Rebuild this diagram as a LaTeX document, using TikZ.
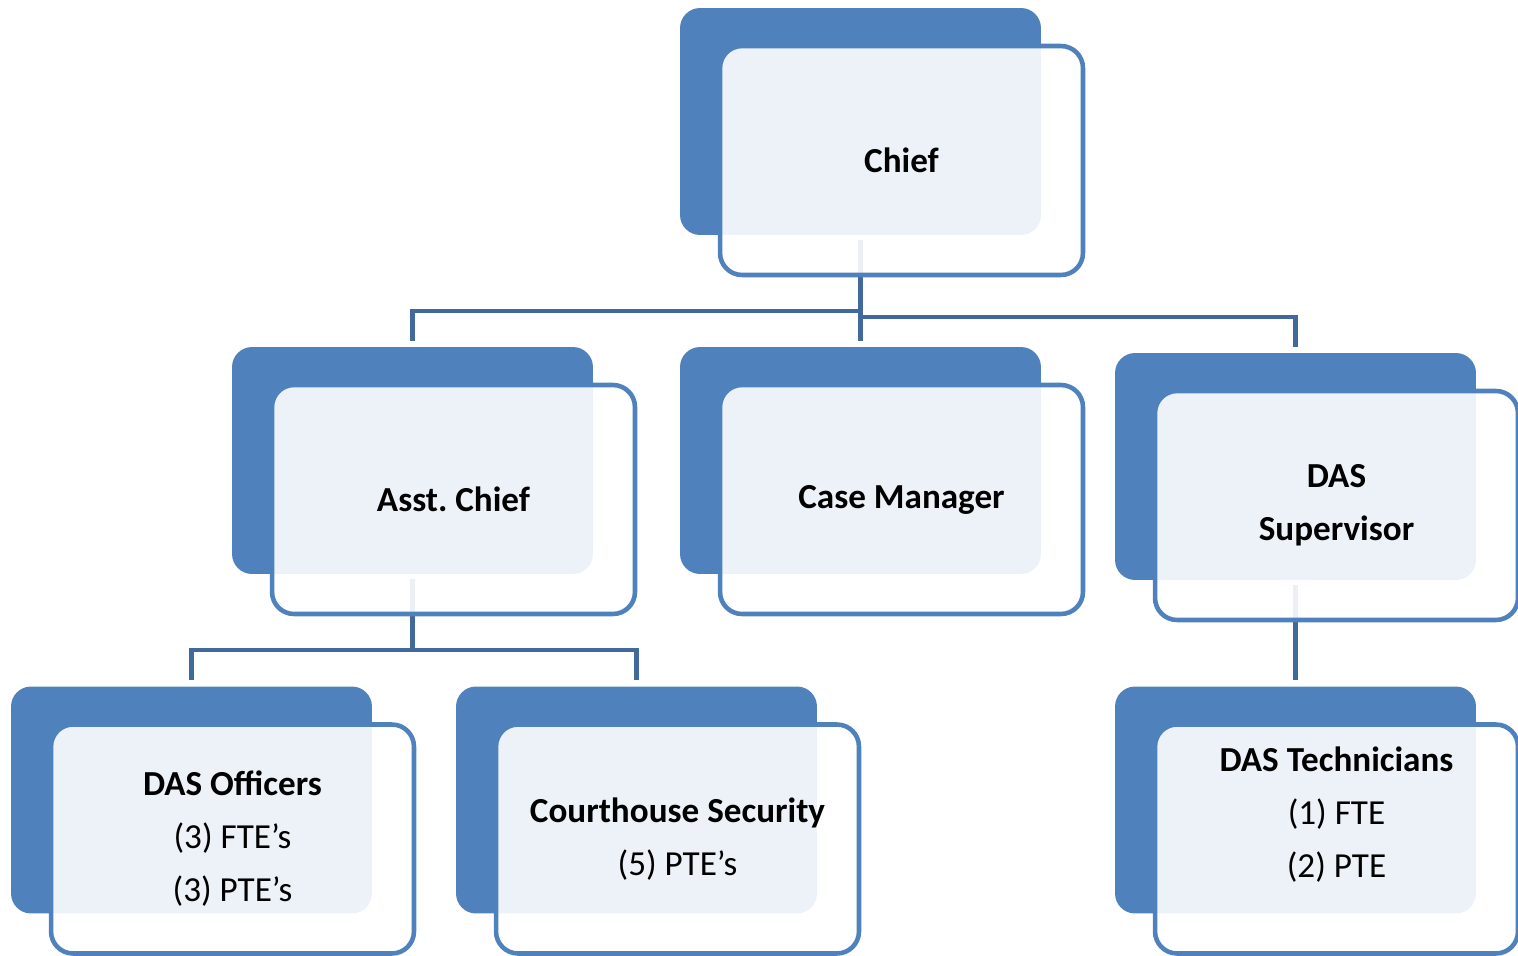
\documentclass[tikz,border=0pt]{standalone}
\usepackage{fontspec}
\setmainfont{Carlito}
\usetikzlibrary{positioning}
\definecolor{sblue}{RGB}{79,129,189}
\definecolor{dblue}{RGB}{65,105,155}

\begin{document}
\begin{tikzpicture}[x=0.02cm,y=-0.02cm,
    back/.style={rectangle,rounded corners=0.4cm,fill=sblue,minimum width=7.22cm,minimum height=4.54cm,inner sep=0pt},
    front/.style={rectangle,rounded corners=0.44cm,draw=sblue,line width=2.6pt,fill=white,fill opacity=0.9,text opacity=1,
      minimum width=7.26cm,minimum height=4.58cm,inner sep=0pt,align=center,font=\fontsize{20}{30.2}\selectfont},
    link/.style={draw=dblue,line width=2.3pt,shorten <=0.1cm,shorten >=0.12cm}]
  \useasboundingbox (0,0) rectangle (1518,956);

  \node[back] (chiefbk) at (860.5,121.5) {};
  \node[back] (asstbk)  at (412.5,460.5) {};
  \node[back] (casebk)  at (860.5,460.5) {};
  \node[back] (supbk)   at (1295.5,466.5) {};
  \node[back] (offbk)   at (191.5,800) {};
  \node[back] (courtbk) at (636.5,800) {};
  \node[back] (techbk)  at (1295.5,800) {};

  \draw[link] (chiefbk.south) -- ++(0,76) -| (asstbk.north);
  \draw[link] (chiefbk.south) -- (casebk.north);
  \draw[link] (chiefbk.south) -- ++(0,82) -| (supbk.north);
  \draw[link] (asstbk.south) -- ++(0,76) -| (offbk.north);
  \draw[link] (asstbk.south) -- ++(0,76) -| (courtbk.north);
  \draw[link] (supbk.south) -- (techbk.north);

  \node[front] (chief) at ([shift={(41,39)}]chiefbk.center) {\textbf{Chief}};
  \node[front] (asst)  at ([shift={(41,39)}]asstbk.center)  {\textbf{Asst.\ Chief}};
  \node[front] (case)  at ([shift={(41,39)}]casebk.center)  {\textbf{Case Manager}};
  \node[front] (sup)   at ([shift={(41,39)}]supbk.center)   {\textbf{DAS}\\\textbf{Supervisor}};
  \node[front] (off)   at ([shift={(41,39)}]offbk.center)   {\textbf{DAS Officers}\\(3) FTE’s\\(3) PTE’s};
  \node[front] (court) at ([shift={(41,39)}]courtbk.center) {\textbf{Courthouse Security}\\(5) PTE’s};
  \node[front] (tech)  at ([shift={(41,39)}]techbk.center)  {\textbf{DAS Technicians}\\(1) FTE\\(2) PTE\\\mbox{}};
\end{tikzpicture}
\end{document}
